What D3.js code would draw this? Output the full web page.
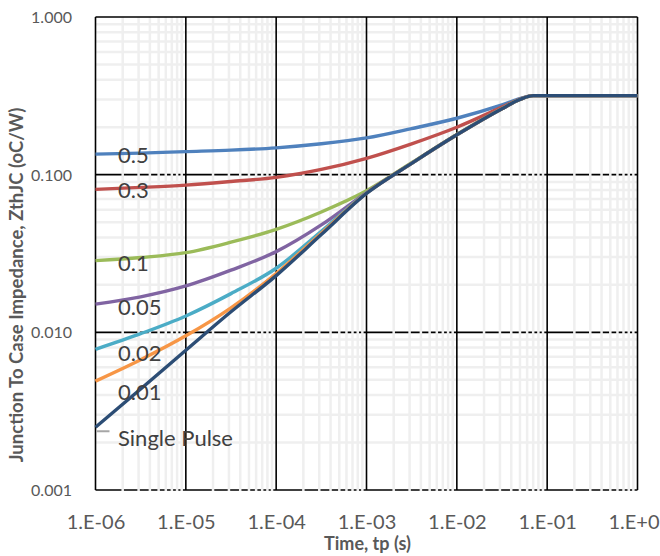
<!DOCTYPE html>
<html><head><meta charset="utf-8">
<script src="https://cdn.jsdelivr.net/npm/d3@7/dist/d3.min.js"></script>
<style>body{margin:0;background:#fff}svg{display:block}</style>
</head><body>
<svg id="c" width="660" height="556"></svg>
<script>
const times = [1e-6, 3.16e-6, 1e-5, 3.16e-5, 1e-4, 3.16e-4, 1e-3, 3.16e-3, 1e-2, 3.16e-2, 5e-2, 7e-2, 1e-1, 1];
const d05 = [0.135, 0.137, 0.140, 0.143, 0.148, 0.157, 0.171, 0.196, 0.228, 0.277, 0.303, 0.317, 0.317, 0.317];
const d03 = [0.0807, 0.083, 0.0859, 0.0905, 0.0962, 0.108, 0.127, 0.157, 0.200, 0.268, 0.302, 0.317, 0.317, 0.317];
const d01 = [0.0285, 0.0298, 0.032, 0.0373, 0.045, 0.058, 0.079, 0.119, 0.180, 0.263, 0.300, 0.317, 0.317, 0.317];
const d005 = [0.0151, 0.0168, 0.0197, 0.0248, 0.0325, 0.048, 0.077, 0.118, 0.179, 0.262, 0.300, 0.317, 0.317, 0.317];
const d002 = [0.0078, 0.0098, 0.0127, 0.0176, 0.0255, 0.0437, 0.0767, 0.118, 0.179, 0.262, 0.300, 0.317, 0.317, 0.317];
const d001 = [0.0049, 0.0067, 0.0095, 0.0143, 0.0236, 0.0425, 0.0764, 0.118, 0.179, 0.262, 0.300, 0.317, 0.317, 0.317];
const dSingle = [0.0025, 0.00437, 0.0077, 0.0135, 0.0229, 0.0417, 0.076, 0.118, 0.179, 0.262, 0.300, 0.317, 0.317, 0.317];
const seriesNames = ["0.5", "0.3", "0.1", "0.05", "0.02", "0.01", "Single Pulse"];
const seriesData = [d05, d03, d01, d005, d002, d001, dSingle];
const seriesColors = ["#4F81BD", "#C0504D", "#9BBB59", "#8064A2", "#4BACC6", "#F79646", "#2C4D75"];
const labelValues = [0.118, 0.071, 0.0245, 0.0128, 0.0066, 0.0037, 0.0019];
const xTickValues = [1e-6, 1e-5, 1e-4, 1e-3, 1e-2, 1e-1, 1];
const xTickLabels = ["1.E-06", "1.E-05", "1.E-04", "1.E-03", "1.E-02", "1.E-01", "1.E+0"];
const yTickValues = [0.001, 0.01, 0.1, 1];
const yTickLabels = ["0.001", "0.010", "0.100", "1.000"];
const xTitle = "Time, tp (s)";
const yTitle = "Junction To Case Impedance, ZthJC (oC/W)";

const L = 95.5, R = 637.5, T = 17, B = 490;
const FONT = "Lato, 'Open Sans', sans-serif";
const svg = d3.select("#c");
const x = d3.scaleLog().domain([1e-6, 1]).range([L, R]);
const y = d3.scaleLog().domain([0.001, 1]).range([B, T]);

const minorX = [], minorY = [];
for (let e = -6; e < 0; e++) for (let m = 2; m <= 9; m++) minorX.push(m * Math.pow(10, e));
for (let e = -3; e < 0; e++) for (let m = 2; m <= 9; m++) minorY.push(m * Math.pow(10, e));

const g = svg.append("g");
g.selectAll(".hmin").data(minorY).join("line")
  .attr("x1", L).attr("x2", R).attr("y1", d => y(d)).attr("y2", d => y(d))
  .attr("stroke", "#efefef").attr("stroke-width", 2.5);
g.selectAll(".hmaj").data([0.001, 0.01, 0.1]).join("line")
  .attr("x1", L).attr("x2", R).attr("y1", d => y(d)).attr("y2", d => y(d))
  .attr("stroke", "#000").attr("stroke-width", 1.6);
g.selectAll(".vmin").data(minorX).join("line")
  .attr("x1", d => x(d)).attr("x2", d => x(d)).attr("y1", T).attr("y2", B + 1)
  .attr("stroke", "#efefef").attr("stroke-width", 2.5);
g.selectAll(".vmaj").data(xTickValues).join("line")
  .attr("x1", d => x(d)).attr("x2", d => x(d)).attr("y1", T).attr("y2", B)
  .attr("stroke", "#000").attr("stroke-width", 1.6);
g.append("line").attr("x1", L).attr("x2", R).attr("y1", T).attr("y2", T)
  .attr("stroke", "#000").attr("stroke-width", 1.6);

const xAxis = d3.axisBottom(x).tickValues(xTickValues)
  .tickFormat((d, i) => xTickLabels[i]).tickSize(0).tickPadding(0);
const xa = svg.append("g").attr("transform", `translate(0,${B})`).call(xAxis);
xa.select(".domain").remove();
xa.selectAll("text").attr("dy", null).attr("y", 39)
  .attr("font-family", FONT).attr("font-size", 20).attr("fill", "#595959");
xa.selectAll("text").filter((d, i) => i === xTickValues.length - 1)
  .attr("text-anchor", "end").attr("x", 660 - R - 1);

const yAxis = d3.axisLeft(y).tickValues(yTickValues)
  .tickFormat((d, i) => yTickLabels[i]).tickSize(0).tickPadding(0);
const ya = svg.append("g").attr("transform", `translate(72,0)`).call(yAxis);
ya.select(".domain").remove();
ya.selectAll("text").attr("x", 0).attr("dy", "0.35em")
  .attr("font-family", FONT).attr("font-size", 16).attr("fill", "#595959");

svg.append("text").attr("x", (L + R) / 2 + 1).attr("y", 550).attr("text-anchor", "middle")
  .attr("font-family", FONT).attr("font-weight", "bold")
  .attr("font-size", 18).attr("fill", "#595959").text(xTitle);
svg.append("text").attr("transform", "translate(23,285) rotate(-90)").attr("text-anchor", "middle")
  .attr("font-family", FONT).attr("font-weight", "bold")
  .attr("font-size", 18.5).attr("fill", "#595959").text(yTitle);

const line = d3.line().x(d => x(d[0])).y(d => y(d[1])).curve(d3.curveMonotoneX);
const plot = svg.append("g");
seriesData.forEach((vals, i) => {
  plot.append("path").datum(times.map((t, j) => [t, vals[j]]))
    .attr("d", line).attr("fill", "none")
    .attr("stroke", seriesColors[i]).attr("stroke-width", 3.4)
    .attr("stroke-linejoin", "round").attr("stroke-linecap", "butt");
});

svg.append("line").attr("x1", x(1e-6) + 1).attr("x2", x(1e-6) + 14)
  .attr("y1", y(dSingle[0]) + 4).attr("y2", y(dSingle[0]) + 4)
  .attr("stroke", "#a6a6a6").attr("stroke-width", 2);

svg.selectAll(".lbl").data(seriesNames).join("text")
  .attr("x", 118).attr("y", (d, i) => y(labelValues[i]))
  .attr("font-family", FONT).attr("font-size", 22)
  .attr("fill", "#404040").text(d => d);
</script>
</body></html>
